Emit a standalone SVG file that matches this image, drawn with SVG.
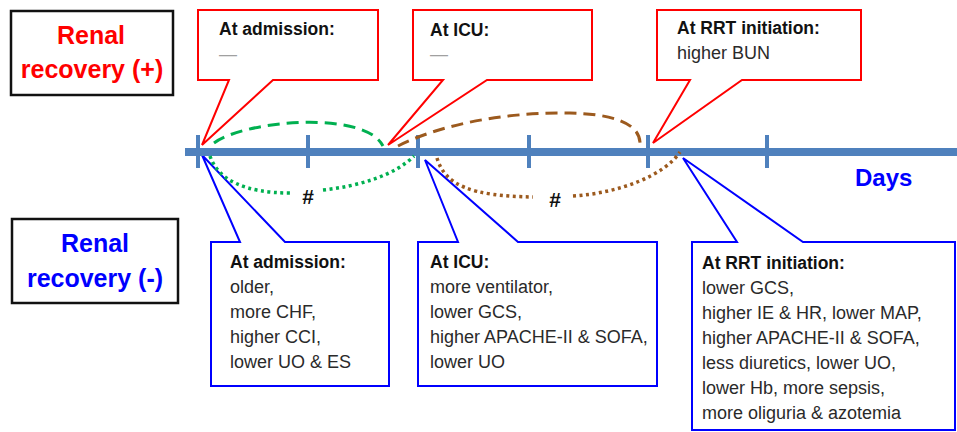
<svg xmlns="http://www.w3.org/2000/svg" width="957" height="432" viewBox="0 0 957 432">
<style>
  .lbl { font-family: "Liberation Sans", Arial, sans-serif; font-weight: bold; font-size: 25px; text-anchor: middle; }
  .red { fill: #ff0000; }
  .blu { fill: #0000ff; }
  .legend { fill: #ffffff; stroke: #111111; stroke-width: 2.5; }
  .callR { fill: #ffffff; stroke: #ff0000; stroke-width: 2; stroke-linejoin: miter; }
  .callB { fill: #ffffff; stroke: #0000ff; stroke-width: 2; stroke-linejoin: miter; }
  .hd { font-family: "Liberation Sans", Arial, sans-serif; font-weight: bold; font-size: 17.5px; fill: #111111; }
  .tx { font-family: "Liberation Sans", Arial, sans-serif; font-size: 18px; fill: #2a2a2a; }
  .dash { font-family: "Liberation Sans", Arial, sans-serif; font-size: 18px; fill: #a0a0a0; }
  .axis { stroke: #4f81bd; stroke-width: 8; fill: none; }
  .tick { stroke: #4f81bd; stroke-width: 4; fill: none; }
  .gdash { stroke: #00b050; stroke-width: 3; fill: none; stroke-dasharray: 12 7; }
  .gdot { stroke: #00b050; stroke-width: 3.5; fill: none; stroke-dasharray: 3 3.5; }
  .bdash { stroke: #9c5a1e; stroke-width: 3; fill: none; stroke-dasharray: 12 7; }
  .bdot { stroke: #9c5a1e; stroke-width: 3.5; fill: none; stroke-dasharray: 3 3.5; }
  .hash { font-family: "Liberation Sans", Arial, sans-serif; font-weight: bold; font-size: 21px; fill: #111111; text-anchor: middle; }
  .days { font-family: "Liberation Sans", Arial, sans-serif; font-weight: bold; font-size: 24px; fill: #0000ff; }
</style>

<g id="legend-plus">
  <rect class="legend" x="11" y="11" width="162" height="84"/>
  <text class="lbl red" x="91" y="44">Renal</text>
  <text class="lbl red" x="92" y="78">recovery (+)</text>
</g>
<g id="legend-minus">
  <rect class="legend" x="12" y="219" width="166" height="84"/>
  <text class="lbl blu" x="95" y="252">Renal</text>
  <text class="lbl blu" x="95" y="287">recovery (-)</text>
</g>

<g id="callout-plus-admission">
  <path class="callR" d="M198,10 H378 V80 H273 L202,145 L229,80 H198 Z"/>
  <text class="hd" x="219" y="35">At admission:</text>
  <text class="dash" x="219" y="60">—</text>
</g>
<g id="callout-plus-icu">
  <path class="callR" d="M413,10 H592 V80 H487 L388,145 L443,80 H413 Z"/>
  <text class="hd" x="430" y="36">At ICU:</text>
  <text class="dash" x="430" y="60">—</text>
</g>
<g id="callout-plus-rrt">
  <path class="callR" d="M657,10 H861 V80 H742 L653,143 L690,80 H657 Z"/>
  <text class="hd" x="677" y="34">At RRT initiation:</text>
  <text class="tx" x="677" y="59">higher BUN</text>
</g>

<g id="callout-minus-admission">
  <path class="callB" d="M211,242 H240 L202,155 L285,242 H389 V386 H211 Z"/>
  <text class="hd" x="230" y="268">At admission:</text>
  <text class="tx" x="230" y="293">older,</text>
  <text class="tx" x="230" y="318">more CHF,</text>
  <text class="tx" x="230" y="343">higher CCI,</text>
  <text class="tx" x="230" y="368">lower UO &amp; ES</text>
</g>
<g id="callout-minus-icu">
  <path class="callB" d="M418,242 H458 L425,160 L518,242 H657 V386 H418 Z"/>
  <text class="hd" x="430" y="268">At ICU:</text>
  <text class="tx" x="430" y="293">more ventilator,</text>
  <text class="tx" x="430" y="318">lower GCS,</text>
  <text class="tx" x="430" y="343">higher APACHE-II &amp; SOFA,</text>
  <text class="tx" x="430" y="368">lower UO</text>
</g>
<g id="callout-minus-rrt">
  <path class="callB" d="M692,242 H737 L683,158 L803,242 H955 V430 H692 Z"/>
  <text class="hd" x="702" y="269">At RRT initiation:</text>
  <text class="tx" x="702" y="294">lower GCS,</text>
  <text class="tx" x="702" y="319">higher IE &amp; HR, lower MAP,</text>
  <text class="tx" x="702" y="344">higher APACHE-II &amp; SOFA,</text>
  <text class="tx" x="702" y="369">less diuretics, lower UO,</text>
  <text class="tx" x="702" y="394">lower Hb, more sepsis,</text>
  <text class="tx" x="702" y="419">more oliguria &amp; azotemia</text>
</g>

<g id="timeline">
  <line class="axis" x1="185" y1="152" x2="957" y2="152"/>
  <line class="tick" x1="198" y1="135" x2="198" y2="168"/>
  <line class="tick" x1="308" y1="135" x2="308" y2="168"/>
  <line class="tick" x1="418" y1="135" x2="418" y2="168"/>
  <line class="tick" x1="529" y1="135" x2="529" y2="168"/>
  <line class="tick" x1="648" y1="135" x2="648" y2="168"/>
  <line class="tick" x1="767" y1="135" x2="767" y2="168"/>
  <text class="days" x="855" y="186">Days</text>
</g>

<g id="connectors">
  <path class="gdash" d="M214,143 C245,120 365,110 383,146"/>
  <path class="gdot" d="M210,156 C218,180 245,193 290,193"/>
  <path class="gdot" d="M323,190 C360,186 395,175 414,156"/>
  <path class="bdash" d="M398,146 C450,120 520,112 570,113 C610,114 642,122 640,146"/>
  <path class="bdot" d="M437,158 C445,185 470,196 533,197"/>
  <path class="bdot" d="M573,196 C620,193 665,175 680,152"/>
  <text class="hash" x="308" y="204">#</text>
  <text class="hash" x="555" y="207">#</text>
</g>
</svg>
